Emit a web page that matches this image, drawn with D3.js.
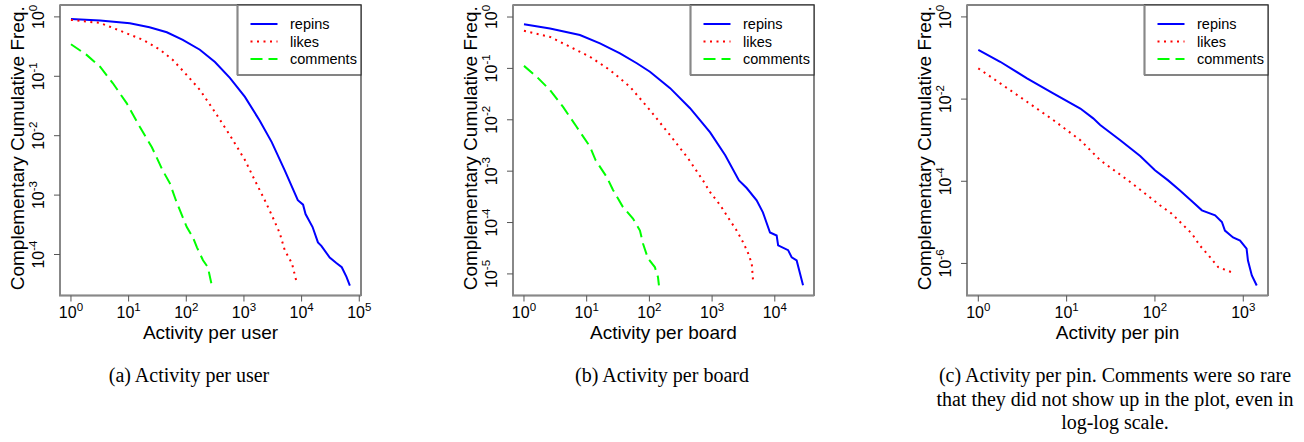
<!DOCTYPE html>
<html>
<head>
<meta charset="utf-8">
<script src="https://cdn.jsdelivr.net/npm/d3@7"></script>
<style>
body { margin: 0; background: #fff; }
text { font-family: "Liberation Sans", Arial, sans-serif; fill: #000; }
.caption { font-family: "Liberation Serif", "Times New Roman", serif; font-size: 20px; }
</style>
</head>
<body>
<svg id="fig" width="1304" height="442"></svg>
<script>
// ---- data (CCDF values) ----
const series_names = ["repins", "likes", "comments"];

// (a) activity per user
const userRepinsX = [1, 3.2, 10.5, 23, 46, 87, 172, 314, 570, 1040, 1870, 3030, 5100, 8600, 10600, 11700, 15500, 19200, 22000, 30700, 40000, 49700, 60000, 68700];
const userRepinsY = [0.925, 0.87, 0.78, 0.67, 0.55, 0.41, 0.28, 0.174, 0.094, 0.045, 0.018, 0.0078, 0.0026, 8.2e-4, 6.9e-4, 4.8e-4, 2.9e-4, 1.6e-4, 1.4e-4, 8.9e-5, 7.2e-5, 6.1e-5, 4.2e-5, 3.0e-5];
const userLikesX = [1, 3.2, 8.0, 17.7, 35, 58.6, 102, 172, 314, 570, 1040, 1540, 2300, 3170, 4170, 5100, 6800, 8270];
const userLikesY = [0.89, 0.79, 0.56, 0.41, 0.28, 0.188, 0.105, 0.059, 0.025, 0.0102, 0.0039, 0.00178, 8.2e-4, 4.2e-4, 2.3e-4, 1.18e-4, 7.1e-5, 3.3e-5];
const userCommentsX = [1, 1.87, 3.2, 5.3, 9.3, 15.7, 25.3, 39, 52, 66, 87, 102, 130, 153, 195, 237, 277];
const userCommentsY = [0.346, 0.229, 0.145, 0.077, 0.035, 0.014, 0.0064, 0.0026, 0.00158, 8.2e-4, 4.2e-4, 2.9e-4, 1.95e-4, 1.32e-4, 8.0e-5, 6.1e-5, 3.0e-5];

// (b) activity per board
const boardRepinsX = [1, 2.6, 7.8, 16.3, 34, 63, 102, 214, 445, 930, 1620, 2680, 3560, 5130, 6460, 8380, 10700, 11300, 16300, 18600, 22300, 28200];
const boardRepinsY = [0.72, 0.60, 0.446, 0.307, 0.197, 0.126, 0.086, 0.0413, 0.0168, 0.0057, 0.00204, 6.6e-4, 4.7e-4, 2.7e-4, 1.58e-4, 6.4e-5, 5.6e-5, 3.6e-5, 2.9e-5, 2.1e-5, 1.83e-5, 6.0e-6];
const boardLikesX = [1, 2.6, 5.4, 11.3, 23.5, 49, 102, 214, 413, 715, 930, 1340, 1930, 2460, 3100, 3720, 4290, 4530];
const boardLikesY = [0.54, 0.41, 0.264, 0.168, 0.093, 0.044, 0.0154, 0.005, 0.00178, 6.6e-4, 3.9e-4, 2.2e-4, 1.1e-4, 7.0e-5, 4.2e-5, 2.6e-5, 1.6e-5, 6.5e-6];
const boardCommentsX = [1, 1.6, 2.6, 4.2, 6.9, 11.3, 13.9, 20.9, 26.3, 37.9, 54.7, 70.7, 79, 95, 122, 137, 142];
const boardCommentsY = [0.112, 0.0686, 0.0378, 0.0178, 0.0073, 0.003, 0.00163, 7.7e-4, 4.3e-4, 2.0e-4, 1.2e-4, 7.0e-5, 3.9e-5, 2.0e-5, 1.36e-5, 8.7e-6, 6.0e-6];

// (c) activity per pin (no comments visible)
const pinRepinsX = [1, 1.77, 3.56, 7.05, 14.3, 20, 24, 40.5, 68, 100, 141, 192, 270, 340, 480, 573, 620, 766, 920, 1090, 1130, 1250, 1420];
const pinRepinsY = [0.157, 0.081, 0.032, 0.0138, 0.0059, 0.0034, 0.00233, 0.001, 4.1e-4, 1.86e-4, 1.05e-4, 6.0e-5, 3.1e-5, 1.96e-5, 1.48e-5, 1.02e-5, 6.3e-6, 4.3e-6, 3.6e-6, 2.3e-6, 1.18e-6, 5.1e-7, 2.9e-7];
const pinLikesX = [1, 1.77, 3.56, 7.05, 14.3, 24, 49.7, 73.5, 114, 155, 201, 262, 324, 421, 521, 774];
const pinLikesY = [0.056, 0.0242, 0.0086, 0.0031, 0.001, 3.25e-4, 1.05e-4, 5.5e-5, 2.6e-5, 1.63e-5, 9.3e-6, 5.3e-6, 2.7e-6, 1.42e-6, 8.1e-7, 5.9e-7];
const pinCommentsX = [];
const pinCommentsY = [];

// tick exponents
const userXTicks = [0, 1, 2, 3, 4, 5];
const userYTicks = [0, -1, -2, -3, -4];
const boardXTicks = [0, 1, 2, 3, 4];
const boardYTicks = [0, -1, -2, -3, -4, -5];
const pinXTicks = [0, 1, 2, 3];
const pinYTicks = [0, -2, -4, -6];

const x_titles = ["Activity per user", "Activity per board", "Activity per pin"];
const captions = [
    ["(a) Activity per user"],
    ["(b) Activity per board"],
    ["(c) Activity per pin. Comments were so rare", "that they did not show up in the plot, even in", "log-log scale."]
];

// ---- layout ----
const top_y = 5, bottom_y = 295.5;
const series_style = {
    repins: {color: "#0000ff", dash: null},
    likes: {color: "#ff0000", dash: "2,4.5"},
    comments: {color: "#00ff00", dash: "12,6"}
};

const panels = [
    {left: 60, right: 361, xdom: [-0.19, 5.03], ydom: [-4.69, 0.2], xt: userXTicks, yt: userYTicks,
     data: [[userRepinsX, userRepinsY], [userLikesX, userLikesY], [userCommentsX, userCommentsY]], capX: 189},
    {left: 513, right: 814, xdom: [-0.175, 4.625], ydom: [-5.42, 0.234], xt: boardXTicks, yt: boardYTicks,
     data: [[boardRepinsX, boardRepinsY], [boardLikesX, boardLikesY], [boardCommentsX, boardCommentsY]], capX: 662},
    {left: 967, right: 1268, xdom: [-0.128, 3.28], ydom: [-6.78, 0.29], xt: pinXTicks, yt: pinYTicks,
     data: [[pinRepinsX, pinRepinsY], [pinLikesX, pinLikesY], [pinCommentsX, pinCommentsY]], capX: 1115}
];

const svg = d3.select("#fig");

function powLabel(t, e) {
    t.append("tspan").text("10");
    t.append("tspan").attr("dy", -7.5).attr("font-size", "11.5px").text(e);
}

panels.forEach((p, pi) => {
    const g = svg.append("g");
    const X = d3.scaleLog().domain(p.xdom.map(v => Math.pow(10, v))).range([p.left, p.right]);
    const Y = d3.scaleLog().domain(p.ydom.map(v => Math.pow(10, v))).range([bottom_y, top_y]);

    // box
    g.append("rect")
        .attr("x", p.left).attr("y", top_y)
        .attr("width", p.right - p.left).attr("height", bottom_y - top_y)
        .attr("fill", "none").attr("stroke", "#333").attr("stroke-width", 1.2);
    g.append("path")
        .attr("d", `M${p.left},${top_y}V${bottom_y}H${p.right}`)
        .attr("fill", "none").attr("stroke", "#888").attr("stroke-width", 2);

    // x ticks
    p.xt.forEach(e => {
        const x = X(Math.pow(10, e));
        g.append("line").attr("x1", x).attr("x2", x).attr("y1", bottom_y).attr("y2", bottom_y + 6)
            .attr("stroke", "#555").attr("stroke-width", 1);
        const t = g.append("text").attr("x", x).attr("y", 318)
            .attr("text-anchor", "middle").attr("font-size", "16px");
        powLabel(t, e);
    });

    // y ticks
    p.yt.forEach(e => {
        const y = Y(Math.pow(10, e));
        g.append("line").attr("x1", p.left - 6).attr("x2", p.left).attr("y1", y).attr("y2", y)
            .attr("stroke", "#555").attr("stroke-width", 1);
        const t = g.append("text")
            .attr("transform", `translate(${p.left - 16},${y}) rotate(-90)`)
            .attr("text-anchor", "middle").attr("font-size", "16px");
        powLabel(t, e);
    });

    // axis titles
    g.append("text")
        .attr("x", (p.left + p.right) / 2).attr("y", 339)
        .attr("text-anchor", "middle").attr("font-size", "19px")
        .text(x_titles[pi]);
    g.append("text")
        .attr("transform", `translate(${p.left - 36},${(top_y + bottom_y) / 2 - 2}) rotate(-90)`)
        .attr("text-anchor", "middle").attr("font-size", "19px")
        .text("Complementary Cumulative Freq.");

    // series
    const line = d3.line().x(d => X(d[0])).y(d => Y(d[1]));
    p.data.forEach((s, si) => {
        const st = series_style[series_names[si]];
        const pts = s[0].map((v, i) => [v, s[1][i]]);
        if (pts.length === 0) return;
        g.append("path")
            .datum(pts)
            .attr("d", line)
            .attr("fill", "none")
            .attr("stroke", st.color)
            .attr("stroke-width", 2)
            .attr("stroke-dasharray", st.dash);
    });

    // legend
    const lw = 123.5, lh = 70;
    const lx = p.right - lw;
    g.append("rect").attr("x", lx).attr("y", top_y).attr("width", lw).attr("height", lh)
        .attr("fill", "#fff").attr("stroke", "#333").attr("stroke-width", 1.2);
    g.append("line").attr("x1", lx).attr("x2", lx).attr("y1", top_y).attr("y2", top_y + lh)
        .attr("stroke", "#888").attr("stroke-width", 2);
    series_names.forEach((name, i) => {
        const st = series_style[name];
        const ly = top_y + 19 + i * 17.5;
        g.append("line").attr("x1", lx + 13).attr("x2", lx + 40).attr("y1", ly).attr("y2", ly)
            .attr("stroke", st.color).attr("stroke-width", 2).attr("stroke-dasharray", st.dash);
        g.append("text").attr("x", lx + 52.5).attr("y", ly + 5).attr("font-size", "14.5px").text(name);
    });

    // caption
    captions[pi].forEach((c, ci) => {
        svg.append("text").attr("class", "caption")
            .attr("x", p.capX).attr("y", 382 + ci * 23.5)
            .attr("text-anchor", "middle").text(c);
    });
});
</script>
</body>
</html>
